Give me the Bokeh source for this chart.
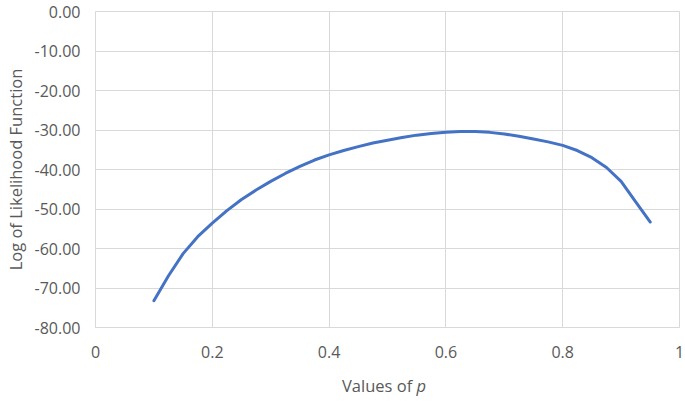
from bokeh.plotting import figure
from bokeh.models import Range1d, FixedTicker, NumeralTickFormatter, Div
from bokeh.layouts import column
from bokeh.embed import file_html
from bokeh.resources import INLINE

# data
p_values = [0.100, 0.125, 0.150, 0.175, 0.200, 0.225, 0.250, 0.275, 0.300,
            0.325, 0.350, 0.375, 0.400, 0.425, 0.450, 0.475, 0.500, 0.525,
            0.550, 0.575, 0.600, 0.625, 0.650, 0.675, 0.700, 0.725, 0.750,
            0.775, 0.800, 0.825, 0.850, 0.875, 0.900, 0.925, 0.950]
log_likelihood = [-73.2, -66.9, -61.3, -57.0, -53.6, -50.4, -47.6, -45.2, -43.0,
                  -41.0, -39.2, -37.6, -36.3, -35.2, -34.2, -33.3, -32.6, -31.9,
                  -31.3, -30.9, -30.6, -30.4, -30.4, -30.6, -31.0, -31.6, -32.3,
                  -33.0, -33.9, -35.2, -37.0, -39.5, -43.0, -48.2, -53.3]
x_ticks = [0, 0.2, 0.4, 0.6, 0.8, 1]
x_tick_labels = ["0", "0.2", "0.4", "0.6", "0.8", "1"]
y_ticks = [-80, -70, -60, -50, -40, -30, -20, -10, 0]
x_title = "Values of"
x_title_symbol = "p"
y_title = "Log of Likelihood Function"

FONT = "Open Sans"
GREY = "#595959"
GRID = "#d9d9d9"

p = figure(width=685, height=370, output_backend="svg", toolbar_location=None,
           x_range=Range1d(0, 1), y_range=Range1d(-80, 0),
           min_border_left=95, min_border_right=6, min_border_top=11,
           min_border_bottom=43, margin=0)
p.outline_line_color = GRID

p.line(p_values, log_likelihood, line_color="#4472C4", line_width=3,
       line_join="round", line_cap="round")

for ax in (p.xaxis[0], p.yaxis[0]):
    ax.major_tick_line_color = None
    ax.minor_tick_line_color = None
    ax.major_label_text_font = FONT
    ax.major_label_text_font_size = "16px"
    ax.major_label_text_color = GREY

p.xaxis.ticker = FixedTicker(ticks=x_ticks)
p.xaxis.major_label_overrides = {t: l for t, l in zip(x_ticks, x_tick_labels)}
p.xaxis.axis_line_color = GRID
p.xaxis.major_label_standoff = 12

p.yaxis.ticker = FixedTicker(ticks=y_ticks)
p.yaxis.formatter = NumeralTickFormatter(format="0.00")
p.yaxis.axis_line_color = None
p.yaxis.major_label_standoff = 9
p.yaxis.axis_label = y_title
p.yaxis.axis_label_text_font = FONT
p.yaxis.axis_label_text_font_size = "16.5px"
p.yaxis.axis_label_text_font_style = "normal"
p.yaxis.axis_label_text_color = GREY
p.yaxis.axis_label_standoff = 5

p.xgrid.grid_line_color = GRID
p.ygrid.grid_line_color = GRID
p.xgrid.grid_line_width = 1
p.ygrid.grid_line_width = 1

# x-axis title with italic p
title = Div(text=(f'<div style="padding-left:342px;padding-top:6px;line-height:20px;'
                  f'font-family:\'{FONT}\';font-size:16.5px;color:{GREY};">'
                  f'{x_title} <i>{x_title_symbol}</i></div>'),
            width=685, height=34, margin=0)

layout = column(p, title, spacing=0)

open("out.html", "w").write(file_html(layout, INLINE))
